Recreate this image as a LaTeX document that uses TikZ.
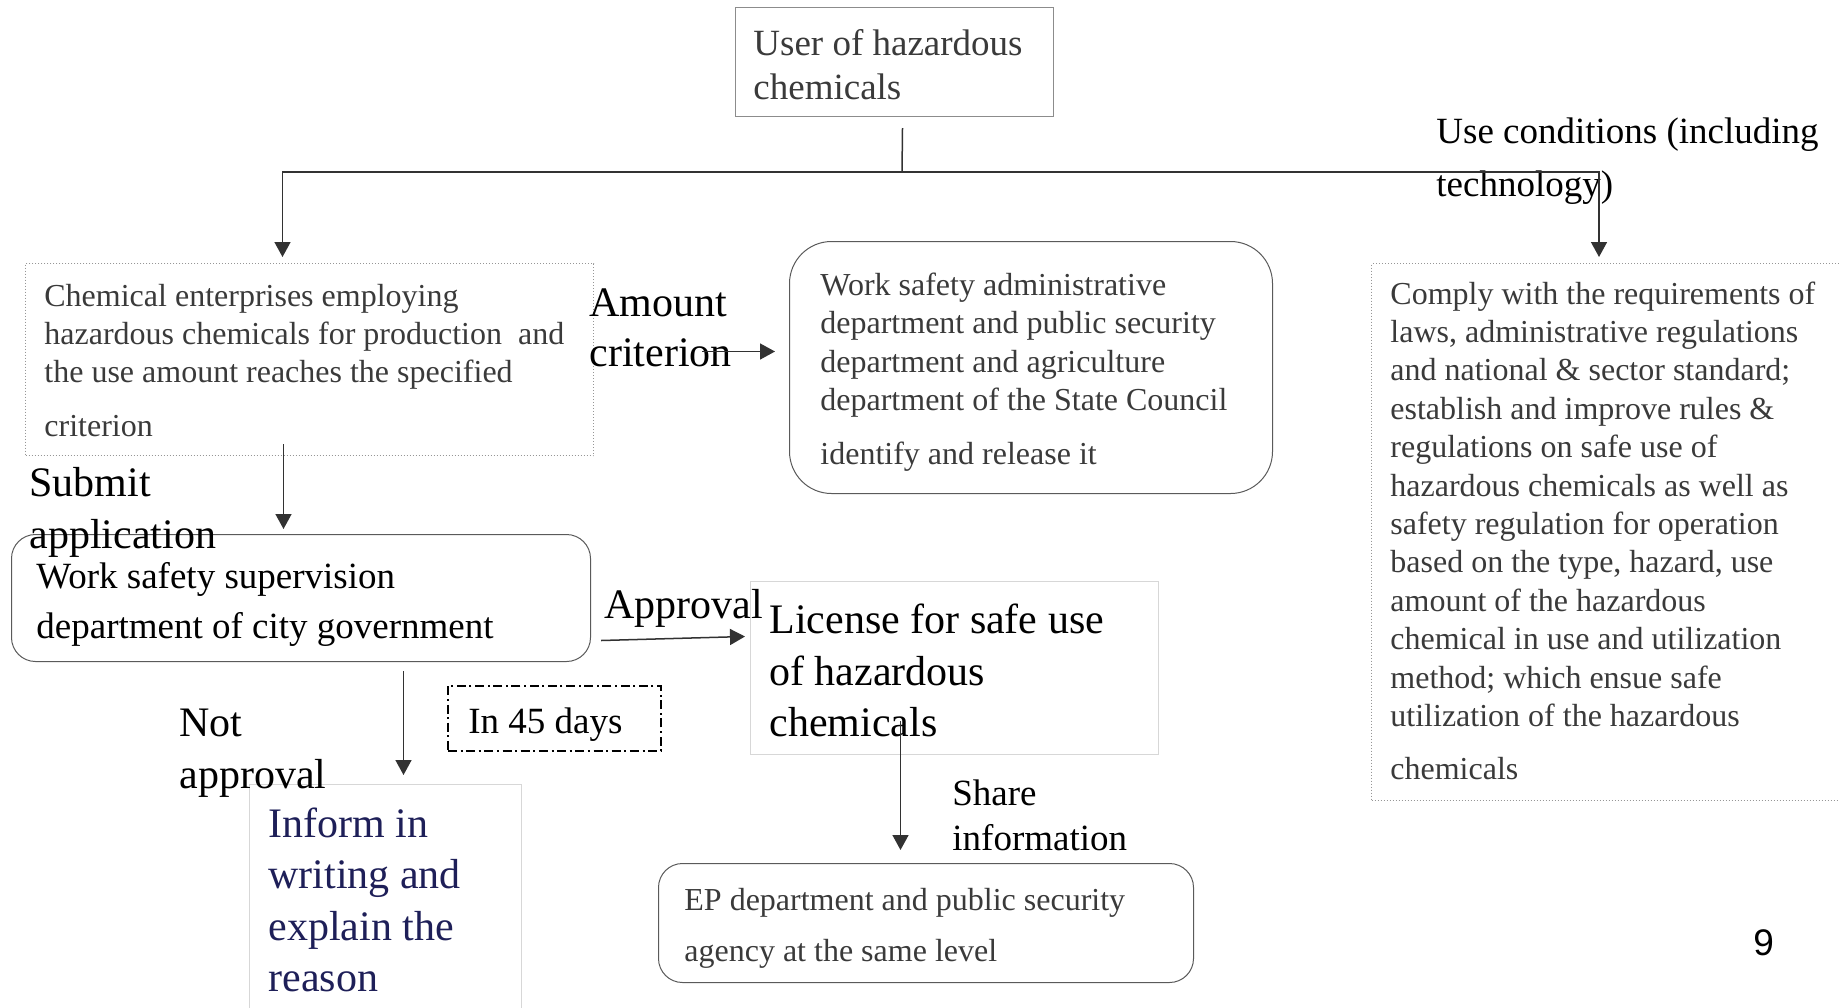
\documentclass[tikz,border=0pt]{standalone}
\usepackage{fontspec}
\setmainfont{Liberation Serif}
\newfontfamily\numfont{Liberation Sans}
\usetikzlibrary{arrows.meta}
\definecolor{boxtext}{RGB}{58,58,58}
\definecolor{navy}{RGB}{30,31,88}
\definecolor{frame}{RGB}{140,140,140}
\definecolor{roundframe}{RGB}{90,90,90}
\definecolor{lightframe}{RGB}{215,215,215}
\definecolor{conncol}{RGB}{50,50,50}
\newcommand\mylines[3]{{\fontsize{#1}{#2}\selectfont\begin{tabular}[t]{@{}l@{}}#3\end{tabular}}}
\tikzset{
  box/.style={draw=frame, line width=0.5pt, inner sep=0pt, anchor=north west},
  dotbox/.style={box, draw={rgb,255:red,150;green,150;blue,150}, densely dotted},
  roundbox/.style={box, draw=roundframe},
  lightbox/.style={box, draw=lightframe},
  lbl/.style={inner sep=0pt, anchor=base west, yshift=-1pt},
  biglbl/.style={lbl, yshift=-0.75pt},
  connline/.style={draw=conncol, line width=0.75pt},
  arr/.style={connline, -{Triangle[length=7.5pt,width=8pt]}}
}
\begin{document}
\begin{tikzpicture}[x=0.5pt,y=-0.5pt]
\useasboundingbox (0,0) rectangle (1839,1007);

% boxes
\node[box, minimum width=159pt, minimum height=54.5pt] (user) at (735,7) {};
\node[lbl, text=boxtext] (usertxt) at (753,53) {\mylines{18.5}{22}{User of hazardous\\chemicals}};

\node[dotbox, minimum width=284pt, minimum height=96pt] (chem) at (25,263) {};
\node[lbl, text=boxtext] (chemtxt) at (44,304) {\mylines{16}{19}{Chemical enterprises employing\\hazardous chemicals for production\ \ and\\the use amount reaches the specified\\[8pt]criterion}};

\node[roundbox, rounded corners=21pt, minimum width=241.5pt, minimum height=126pt] (state) at (789,241) {};
\node[lbl, text=boxtext] (statetxt) at (820,293) {\mylines{16}{19.3}{Work safety administrative\\department and public security\\department and agriculture\\department of the State Council\\[7.7pt]identify and release it}};

\node[dotbox, minimum width=236pt, minimum height=268.5pt] (comply) at (1371,263) {};
\node[lbl, text=boxtext] (complytxt) at (1390,302) {\mylines{16}{19.2}{Comply with the requirements of\\laws, administrative regulations\\and national \& sector standard;\\establish and improve rules \&\\regulations on safe use of\\hazardous chemicals as well as\\safety regulation for operation\\based on the type, hazard, use\\amount of the hazardous\\chemical in use and utilization\\method; which ensue safe\\utilization of the hazardous\\[7.3pt]chemicals}};

\node[roundbox, rounded corners=12pt, minimum width=289.5pt, minimum height=63.5pt] (city) at (11,534) {};
\node[lbl] (citytxt) at (36,586) {\mylines{18.5}{25}{Work safety supervision\\department of city government}};

\node[lightbox, minimum width=204pt, minimum height=86.5pt] (license) at (750,581) {};
\node[biglbl] (licensetxt) at (769,630) {\mylines{21}{25.75}{License for safe use\\of hazardous\\chemicals}};

\node[box, draw=black, line width=0.9pt, dash pattern=on 4.5pt off 1.8pt on 1pt off 1.8pt, minimum width=106.5pt, minimum height=32.5pt] (days) at (447,685) {};
\node[lbl] (daystxt) at (468,731) {\fontsize{18.5}{22}\selectfont In 45 days};

\node[lightbox, minimum width=136pt, minimum height=130pt] (inform) at (249,784) {};
\node[biglbl, text=navy] (informtxt) at (268,834) {\mylines{21}{25.7}{Inform in\\writing and\\explain the\\reason}};

\node[roundbox, rounded corners=12pt, minimum width=267.5pt, minimum height=59.5pt] (ep) at (658,863) {};
\node[lbl, text=boxtext] (eptxt) at (684,908) {\mylines{16}{25.5}{EP department and public security\\agency at the same level}};

% labels
\node[biglbl] (lamount) at (589,313) {\mylines{21}{25}{Amount\\criterion}};
\node[biglbl] (luse) at (1436,140) {\mylines{18.5}{26.5}{Use conditions (including\\technology)}};
\node[biglbl] (lsubmit) at (29,493) {\mylines{21}{26}{Submit\\application}};
\node[biglbl] (lapproval) at (604,615) {\fontsize{21}{25}\selectfont Approval};
\node[biglbl] (lnot) at (179,733) {\mylines{21}{26}{Not\\approval}};
\node[lbl] (lshare) at (952,803) {\mylines{18.5}{22.5}{Share\\information}};
\node[lbl] (pagenum) at (1753,953) {\numfont\fontsize{18.5}{22}\selectfont 9};

% connectors
\coordinate (split) at (902,172);
\draw[connline] ([xshift=4pt,yshift=-5.5pt]user.south) -- (split);
\draw[arr] (split) -| ([xshift=-13.5pt,yshift=3pt]chem.north);
\draw[arr] (split) -| ([xshift=114pt,yshift=3pt]comply.north west);
\draw[arr] ([xshift=54pt,yshift=4pt]chem.east) -- ([xshift=-7pt,yshift=4pt]chem.east -| state.west);
\draw[arr] ([xshift=-13pt,yshift=6pt]chem.south) -- ++(0,85);
\draw[arr] ([xshift=5pt,yshift=-21.25pt]city.east) -- ([xshift=-2.5pt,yshift=15.75pt]license.west);
\draw[arr] ([xshift=51.25pt,yshift=-4.5pt]city.south) -- ([xshift=9pt,yshift=4.5pt]inform.north);
\draw[arr] ([xshift=-27pt,yshift=17pt]license.south) -- ([xshift=-12.75pt,yshift=6.5pt]ep.north);
\end{tikzpicture}
\end{document}
